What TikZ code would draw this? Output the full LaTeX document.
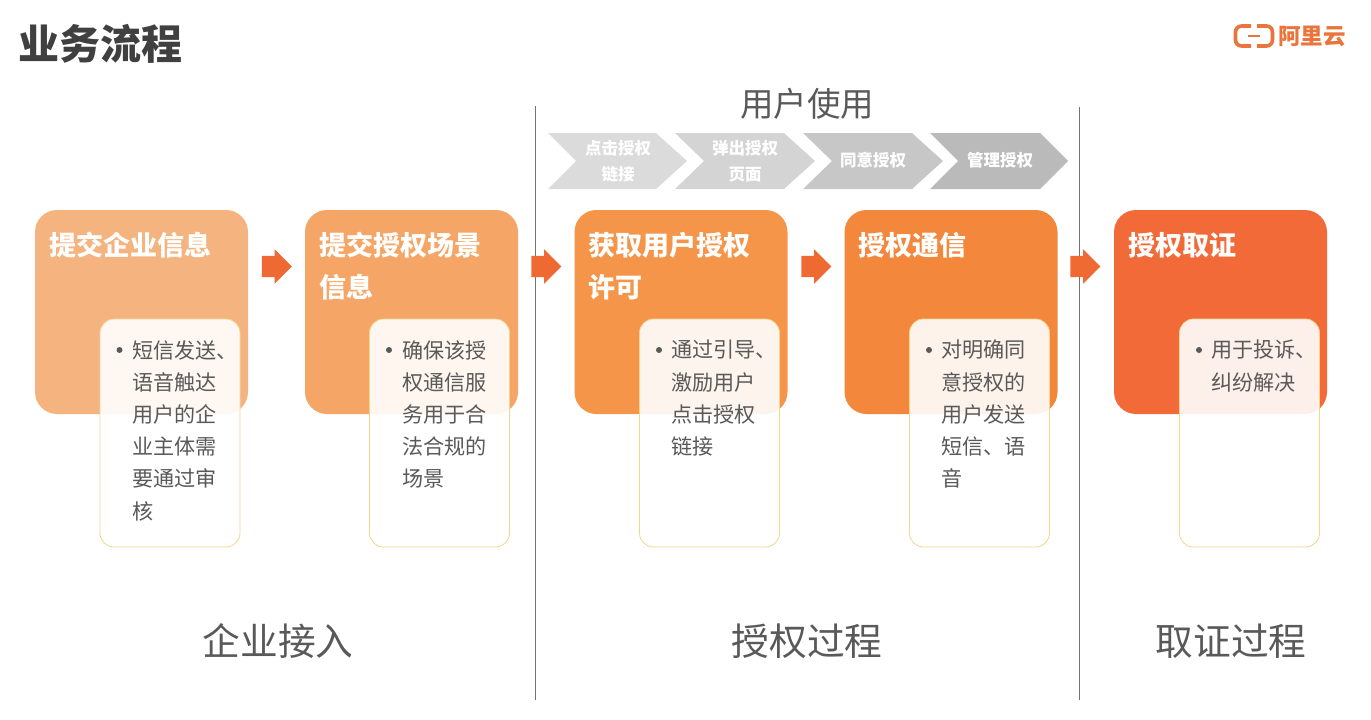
\documentclass[tikz,border=0pt]{standalone}
\usepackage{fontspec}
\usepackage{xcolor}
\usetikzlibrary{shapes.arrows}
\setmainfont{Noto Sans CJK SC}

\definecolor{boxA}{HTML}{F5B37F}
\definecolor{boxB}{HTML}{F5A565}
\definecolor{boxC}{HTML}{F49549}
\definecolor{boxD}{HTML}{F3873C}
\definecolor{boxE}{HTML}{F26A38}
\definecolor{arrowred}{HTML}{EF6A33}
\definecolor{logored}{HTML}{E9743C}
\definecolor{noteedge}{HTML}{F2D58F}
\definecolor{darktext}{HTML}{404040}
\definecolor{greytext}{HTML}{595959}

\tikzset{
  mainbox/.style={rounded corners=22pt, minimum width=213pt, minimum height=204pt, inner sep=0pt},
  heading/.style={anchor=north west, align=left, inner sep=0pt, text=white,
    font=\fontsize{27}{42}\selectfont\bfseries},
  notebox/.style={draw=noteedge, line width=0.8pt, fill=white, fill opacity=0.9, rounded corners=14pt,
    minimum width=140pt, minimum height=228pt, inner sep=0pt},
  notetext/.style={anchor=north west, align=left, inner sep=0pt, text=greytext,
    font=\fontsize{21.1}{32.2}\selectfont},
  notedot/.style={circle, fill=greytext, minimum size=6pt, inner sep=0pt},
  blockarrow/.style={single arrow, fill=arrowred, minimum height=30pt, text height=21pt, text depth=0pt,
    single arrow head extend=6.5pt, single arrow head indent=0pt, inner sep=0pt},
  chevlabel/.style={align=center, inner sep=0pt, text=white,
    font=\fontsize{16.5}{26}\selectfont\bfseries},
  bigtext/.style={inner sep=0pt, text=greytext, font=\fontsize{37.7}{40}\selectfont},
}

\begin{document}
\begin{tikzpicture}[x=1pt, y=-1pt]
\useasboundingbox (0,0) rectangle (1371,720);

\node[anchor=west, inner sep=0pt, text=darktext, font=\fontsize{41}{41}\selectfont\bfseries] (title) at (18.5,44) {业务流程};

% logo
\draw[logored, line width=3.6pt, rounded corners=6pt] (1251,26) -- (1235.5,26) -- (1235.5,46) -- (1251,46);
\draw[logored, line width=3.6pt, rounded corners=6pt] (1257,26) -- (1272.5,26) -- (1272.5,46) -- (1257,46);
\draw[logored, line width=1.6pt] (1248,36) -- (1260,36);
\node[anchor=west, inner sep=0pt, text=logored, font=\fontsize{22.5}{23}\selectfont\bfseries] (logotext) at (1278,36) {阿里云};

% dividers
\draw[black!55, line width=0.7pt] (535,106) -- (535,700);
\draw[black!55, line width=0.7pt] (1079,107) -- (1079,700);

\node[inner sep=0pt, text=greytext, font=\fontsize{33.5}{35}\selectfont] (usage) at (807,104) {用户使用};

% chevrons
\fill[black!14] (548,133) -- (656,133) -- (687,161) -- (656,189) -- (548,189) -- (576,161) -- cycle;
\fill[black!17] (675,133) -- (784,133) -- (815,161) -- (784,189) -- (675,189) -- (704,161) -- cycle;
\fill[black!22] (803,133) -- (912,133) -- (943,161) -- (912,189) -- (803,189) -- (832,161) -- cycle;
\fill[black!27] (930,133) -- (1040,133) -- (1068,161) -- (1040,189) -- (930,189) -- (958,161) -- cycle;
\node[chevlabel] (clicklink) at (618,161) {点击授权\\链接};
\node[chevlabel] (popup) at (745,161) {弹出授权\\页面};
\node[chevlabel] (agree) at (873,160) {同意授权};
\node[chevlabel] (manage) at (1000,160) {管理授权};

% main boxes
\node[mainbox, fill=boxA] (boxinfo) at (141.5,312) {};
\node[mainbox, fill=boxB] (boxscene) at (411.5,312) {};
\node[mainbox, fill=boxC] (boxpermit) at (681,312) {};
\node[mainbox, fill=boxD] (boxcomm) at (951,312) {};
\node[mainbox, fill=boxE] (boxproof) at (1220.5,312) {};

\node[heading] (headinfo) at (49,232) {提交企业信息};
\node[heading] (headscene) at (319,232) {提交授权场景\\信息};
\node[heading] (headpermit) at (588,232) {获取用户授权\\许可};
\node[heading] (headcomm) at (858,232) {授权通信};
\node[heading] (headproof) at (1128,232) {授权取证};

% arrows between the boxes
\node[blockarrow] (arrowA) at (271.5,266.5) {};
\node[blockarrow] (arrowB) at (541,266.5) {};
\node[blockarrow] (arrowC) at (811,266.5) {};
\node[blockarrow] (arrowD) at (1080,266.5) {};

% notes
\node[notebox] (noteinfo) at (170,433) {};
\node[notebox] (notescene) at (439.5,433) {};
\node[notebox] (notepermit) at (709.5,433) {};
\node[notebox] (notecomm) at (979.5,433) {};
\node[notebox] (noteproof) at (1249.5,433) {};

\node[notedot] (dotinfo) at (119.5,350) {};
\node[notedot] (dotscene) at (389,350) {};
\node[notedot] (dotpermit) at (659,350) {};
\node[notedot] (dotcomm) at (929,350) {};
\node[notedot] (dotproof) at (1199,350) {};

\node[notetext] (textinfo) at (132,340) {短信发送、\\语音触达\\用户的企\\业主体需\\要通过审\\核};
\node[notetext] (textscene) at (402,340) {确保该授\\权通信服\\务用于合\\法合规的\\场景};
\node[notetext] (textpermit) at (671,340) {通过引导、\\激励用户\\点击授权\\链接};
\node[notetext] (textcomm) at (941,340) {对明确同\\意授权的\\用户发送\\短信、语\\音};
\node[notetext] (textproof) at (1211,340) {用于投诉、\\纠纷解决};

% phases
\node[bigtext] (phasejoin) at (278,641) {企业接入};
\node[bigtext] (phaseauth) at (807,641) {授权过程};
\node[bigtext] (phaseproof) at (1231,641) {取证过程};
\end{tikzpicture}
\end{document}
